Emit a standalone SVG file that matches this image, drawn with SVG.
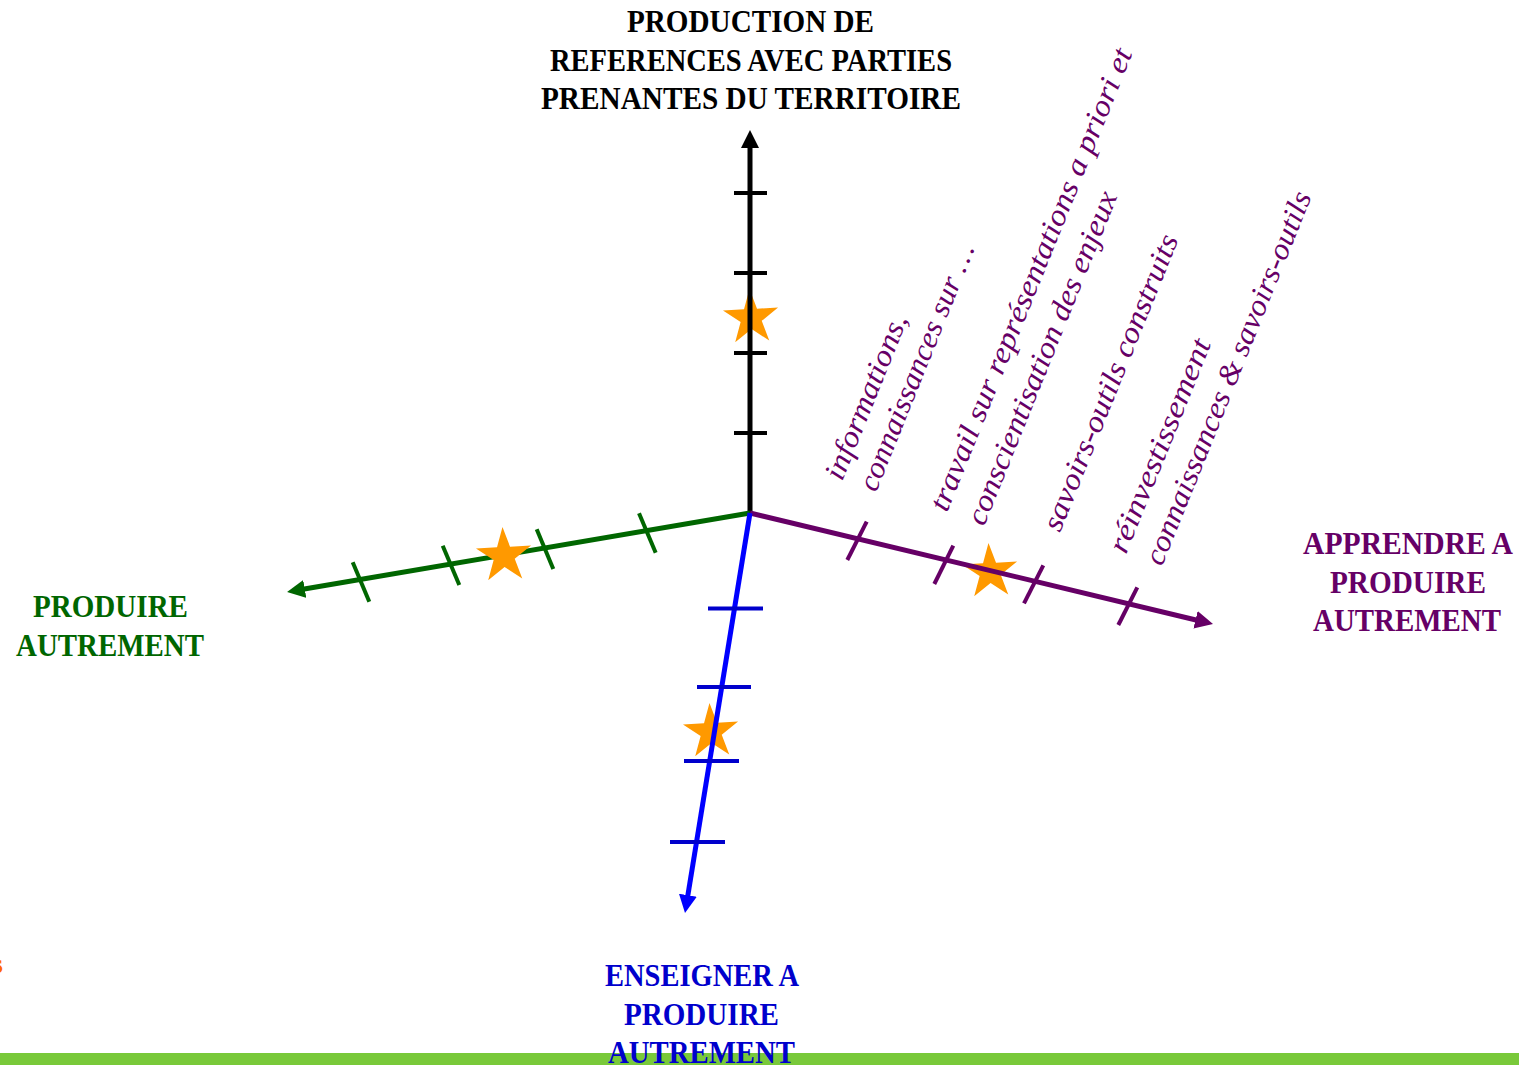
<svg xmlns="http://www.w3.org/2000/svg" width="1519" height="1065" viewBox="0 0 1519 1065">
<style>
.lbl{font-family:"Liberation Serif","Times New Roman",serif;font-weight:bold;font-size:31px;text-anchor:middle}
.it{font-family:"Liberation Serif","Times New Roman",serif;font-style:italic;font-size:30px;fill:#660066}
.axis{fill:none;stroke-width:5}
.tick{fill:none;stroke-width:4}
.star{fill:#ff9900}
</style>
<defs>
<polygon id="star" points="0,-29 6.52,-8.98 27.58,-8.96 10.56,3.43 17.05,23.46 0,11.1 -17.05,23.46 -10.56,3.43 -27.58,-8.96 -6.52,-8.98"/>
<marker id="ahK" viewBox="0 0 18 18" refX="8" refY="9" markerWidth="18" markerHeight="18" markerUnits="userSpaceOnUse" orient="auto"><path d="M0,0 L18,9 L0,18 Z" fill="#000000"/></marker>
<marker id="ahG" viewBox="0 0 18 18" refX="8" refY="9" markerWidth="18" markerHeight="18" markerUnits="userSpaceOnUse" orient="auto"><path d="M0,0 L18,9 L0,18 Z" fill="#006600"/></marker>
<marker id="ahP" viewBox="0 0 18 18" refX="8" refY="9" markerWidth="18" markerHeight="18" markerUnits="userSpaceOnUse" orient="auto"><path d="M0,0 L18,9 L0,18 Z" fill="#660066"/></marker>
<marker id="ahB" viewBox="0 0 18 18" refX="8" refY="9" markerWidth="18" markerHeight="18" markerUnits="userSpaceOnUse" orient="auto"><path d="M0,0 L18,9 L0,18 Z" fill="#0000ff"/></marker>
</defs>
<rect x="0" y="0" width="1519" height="1065" fill="#ffffff"/>
<rect x="0" y="1053" width="1519" height="12" fill="#79c93a"/>

<g id="stars-under">
<use href="#star" class="star" transform="translate(751,318) rotate(-3)"/>
<use href="#star" class="star" transform="translate(990,572) rotate(-3)"/>
<use href="#star" class="star" transform="translate(711,732) rotate(-3)"/>
</g>

<g id="connectors">
<path id="axis-top" class="axis" stroke="#000000" d="M750,515 L750,140" marker-end="url(#ahK)"/>
<g id="ticks-top" class="tick" stroke="#000000">
<line x1="734" y1="193" x2="767" y2="193"/>
<line x1="734" y1="273" x2="767" y2="273"/>
<line x1="734" y1="353" x2="767" y2="353"/>
<line x1="734" y1="433" x2="767" y2="433"/>
</g>
<path id="axis-left" class="axis" stroke="#006600" d="M750,513 L296.9,590.3" marker-end="url(#ahG)"/>
<g id="ticks-left" class="tick" stroke="#006600">
<line x1="352.7" y1="562.3" x2="369.3" y2="601.7"/>
<line x1="442.7" y1="545.7" x2="459.3" y2="585"/>
<line x1="536.7" y1="529.3" x2="553.3" y2="569"/>
<line x1="639" y1="513.3" x2="655.7" y2="552.7"/>
</g>
<path id="axis-right" class="axis" stroke="#660066" d="M750,513 L1203.3,621.7" marker-end="url(#ahP)"/>
<g id="ticks-right" class="tick" stroke="#660066">
<line x1="866.7" y1="521.7" x2="847.3" y2="560"/>
<line x1="953.3" y1="545.7" x2="934.3" y2="584"/>
<line x1="1043.3" y1="565.3" x2="1024" y2="603.3"/>
<line x1="1137.3" y1="587.3" x2="1118.3" y2="625"/>
</g>
<path id="axis-bottom" class="axis" stroke="#0000ff" d="M750,513 L686.6,903.1" marker-end="url(#ahB)"/>
<g id="ticks-bottom" class="tick" stroke="#0000cc">
<line x1="708" y1="608.5" x2="763" y2="608.5"/>
<line x1="697" y1="687" x2="751" y2="687"/>
<line x1="684" y1="761" x2="739" y2="761"/>
<line x1="670" y1="842" x2="725" y2="842"/>
</g>
</g>

<g id="star-left">
<use href="#star" class="star" transform="translate(504,556) rotate(-3)"/>
</g>

<g id="node-top">
<text class="lbl" fill="#000000" x="750.5" y="32" textLength="247" lengthAdjust="spacingAndGlyphs">PRODUCTION DE</text>
<text class="lbl" fill="#000000" x="751" y="71" textLength="402" lengthAdjust="spacingAndGlyphs">REFERENCES AVEC PARTIES</text>
<text class="lbl" fill="#000000" x="751" y="109" textLength="420" lengthAdjust="spacingAndGlyphs">PRENANTES DU TERRITOIRE</text>
</g>
<g id="node-left">
<text class="lbl" fill="#006600" x="110.5" y="617" textLength="155" lengthAdjust="spacingAndGlyphs">PRODUIRE</text>
<text class="lbl" fill="#006600" x="110" y="656" textLength="188" lengthAdjust="spacingAndGlyphs">AUTREMENT</text>
</g>
<g id="node-right">
<text class="lbl" fill="#660066" x="1408" y="554" textLength="210" lengthAdjust="spacingAndGlyphs">APPRENDRE A</text>
<text class="lbl" fill="#660066" x="1408" y="593" textLength="156" lengthAdjust="spacingAndGlyphs">PRODUIRE</text>
<text class="lbl" fill="#660066" x="1407" y="631" textLength="188" lengthAdjust="spacingAndGlyphs">AUTREMENT</text>
</g>
<g id="node-bottom">
<text class="lbl" fill="#0000cc" x="702" y="986" textLength="194" lengthAdjust="spacingAndGlyphs">ENSEIGNER A</text>
<text class="lbl" fill="#0000cc" x="701.5" y="1025" textLength="155" lengthAdjust="spacingAndGlyphs">PRODUIRE</text>
<text class="lbl" fill="#0000cc" x="701.5" y="1063" textLength="187" lengthAdjust="spacingAndGlyphs">AUTREMENT</text>
</g>

<g id="right-axis-labels">
<text class="it" transform="translate(842,482) rotate(-68)" textLength="176" lengthAdjust="spacingAndGlyphs">informations,</text>
<text class="it" transform="translate(876,493) rotate(-68)" textLength="264" lengthAdjust="spacingAndGlyphs">connaissances sur …</text>
<text class="it" transform="translate(947,513) rotate(-68)" textLength="496" lengthAdjust="spacingAndGlyphs">travail sur représentations a priori et</text>
<text class="it" transform="translate(984,527) rotate(-68)" textLength="357" lengthAdjust="spacingAndGlyphs">conscientisation des enjeux</text>
<text class="it" transform="translate(1060,533) rotate(-68)" textLength="317" lengthAdjust="spacingAndGlyphs">savoirs-outils construits</text>
<text class="it" transform="translate(1126,555) rotate(-68)" textLength="228" lengthAdjust="spacingAndGlyphs">réinvestissement</text>
<text class="it" transform="translate(1162,567) rotate(-68)" textLength="400" lengthAdjust="spacingAndGlyphs">connaissances &amp; savoirs-outils</text>
</g>

<text x="-8" y="973" font-family="Liberation Serif, serif" font-weight="bold" font-size="28" fill="#ff6600">s</text>
</svg>
